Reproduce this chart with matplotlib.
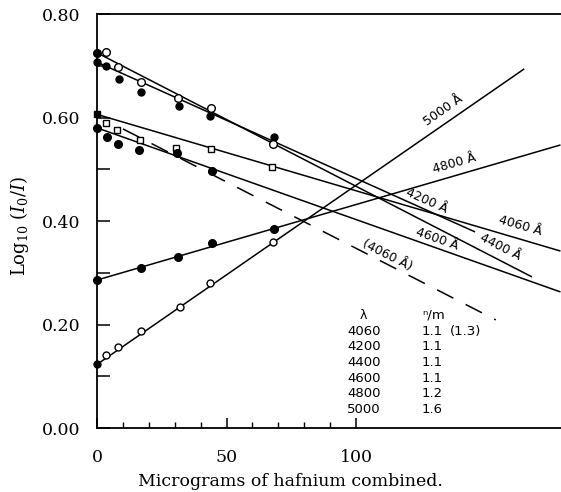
import matplotlib
matplotlib.use("Agg")
import matplotlib.pyplot as plt

# ---------------- data ----------------
# 4060 A (open squares)
x_4060 = [0, 3.3, 7.6, 16.6, 30.5, 44, 67.4]
y_4060 = [0.606, 0.590, 0.576, 0.556, 0.542, 0.539, 0.505]
# 4200 A (filled circles)
x_4200 = [0, 3.5, 8.5, 17, 31.8, 43.6, 68.3]
y_4200 = [0.707, 0.700, 0.674, 0.650, 0.623, 0.603, 0.562]
# 4400 A (open circles)
x_4400 = [0, 3.3, 8, 17, 31.4, 44, 68]
y_4400 = [0.725, 0.727, 0.698, 0.668, 0.638, 0.618, 0.549]
# 4600 A (filled circles)
x_4600 = [0, 3.7, 8.2, 16.3, 30.8, 44.3]
y_4600 = [0.580, 0.562, 0.549, 0.537, 0.531, 0.497]
# 4800 A (filled circles)
x_4800 = [0, 16.8, 31.4, 44.5, 68.3]
y_4800 = [0.286, 0.310, 0.331, 0.358, 0.384]
# 5000 A (open circles)
x_5000 = [0, 3.5, 7.9, 17.1, 32, 43.6, 68]
y_5000 = [0.123, 0.141, 0.157, 0.188, 0.234, 0.281, 0.360]

# fitted straight lines (x pair, y pair)
fit_4060 = ([0, 179], [0.606, 0.342])
fit_4200 = ([0, 146], [0.707, 0.379])
fit_4400 = ([0, 168], [0.725, 0.292])
fit_4600 = ([0, 179], [0.580, 0.263])
fit_4800 = ([0, 179], [0.286, 0.547])
fit_5000 = ([0, 165], [0.123, 0.694])
fit_4060_dashed = ([10, 154], [0.578, 0.209])

# line labels
line_labels = ["5000 Å", "4800 Å", "4200 Å", "4060 Å", "4400 Å", "4600 Å", "(4060 Å)"]

# table
table_lambda = ["4060", "4200", "4400", "4600", "4800", "5000"]
table_nm = ["1.1", "1.1", "1.1", "1.1", "1.2", "1.6"]
table_extra = "(1.3)"

x_ticks_major = [0, 50, 100]
x_ticks_minor = [10, 20, 30, 40, 60, 70, 80, 90]
y_ticks_major = [0.0, 0.2, 0.4, 0.6, 0.8]
y_ticks_minor = [0.1, 0.3, 0.5, 0.7]
y_tick_labels = ["0.00", "0.20", "0.40", "0.60", "0.80"]
x_tick_labels = ["0", "50", "100"]

# ---------------- figure ----------------
plt.rcParams["font.family"] = "DejaVu Serif"
plt.rcParams["mathtext.fontset"] = "dejavuserif"

fig = plt.figure(figsize=(5.61, 4.92), dpi=100)
ax = fig.add_axes([0.173, 0.130, 0.827, 0.8415])
ax.set_xlim(0, 179.2)
ax.set_ylim(0, 0.80)

lw = 1.1
for fx, fy in [fit_4060, fit_4200, fit_4400, fit_4600, fit_4800, fit_5000]:
    ax.plot(fx, fy, color="black", lw=lw, solid_capstyle="butt")
ax.plot(fit_4060_dashed[0], fit_4060_dashed[1], color="black", lw=lw,
        dashes=(12, 9))


def pts(xs, ys, marker, filled, ms):
    for xv, yv in zip(xs, ys):
        fc = "black" if (filled or xv == 0) else "white"
        ax.plot([xv], [yv], marker=marker, ms=ms, mfc=fc, mec="black",
                mew=1.0, linestyle="none", clip_on=False, zorder=3)


pts(x_4060, y_4060, "s", False, 5)
pts(x_4200, y_4200, "o", True, 5)
pts(x_4400, y_4400, "o", False, 5.5)
pts(x_4600, y_4600, "o", True, 5.5)
pts(x_4800, y_4800, "o", True, 5.5)
pts(x_5000, y_5000, "o", False, 5)

SANS = "DejaVu Sans"
label_pos = [(133.6, 0.614, 35), (138.2, 0.512, 16), (127.4, 0.440, -24),
             (163.3, 0.390, -16), (155.6, 0.350, -27), (131.3, 0.366, -19.5),
             (112, 0.334, -27)]
for txt, (lx, ly, rot) in zip(line_labels, label_pos):
    ax.text(lx, ly, txt, rotation=rot, rotation_mode="anchor",
            ha="center", va="center", fontsize=9, family=SANS)

# table
col1 = 103.0
col2 = 125.5
ax.text(col1, 0.218, "λ", ha="center", va="center", fontsize=9, family=SANS)
ax.text(col2, 0.218, "ⁿ/m", ha="left", va="center", fontsize=9.5, family=SANS)
row_y = [0.186, 0.157, 0.127, 0.096, 0.066, 0.035]
for lam, nm, ry in zip(table_lambda, table_nm, row_y):
    ax.text(col1, ry, lam, ha="center", va="center", fontsize=9.5, family=SANS)
    ax.text(col2, ry, nm, ha="left", va="center", fontsize=9.5, family=SANS)
ax.text(136.3, row_y[0], table_extra, ha="left", va="center", fontsize=9.5,
        family=SANS)

# axes styling
ax.spines["right"].set_visible(False)
for s in ["left", "top", "bottom"]:
    ax.spines[s].set_linewidth(1.3)

ax.set_xticks(x_ticks_major)
ax.set_xticklabels(x_tick_labels)
ax.set_xticks(x_ticks_minor, minor=True)
ax.set_yticks(y_ticks_major)
ax.set_yticklabels(y_tick_labels)
ax.set_yticks(y_ticks_minor, minor=True)
ax.tick_params(axis="x", which="major", direction="in", length=7, width=1.1,
               pad=15, labelsize=12.5)
ax.tick_params(axis="x", which="minor", direction="in", length=4, width=1.0)
ax.tick_params(axis="y", which="both", direction="in", length=9, width=1.1,
               pad=12, labelsize=12.5)
ax.tick_params(top=False, right=False, which="both")

fig.text(20 / 561, (492 - 226) / 492, r"Log$_{10}$ $(I_0/I)$", rotation=90,
         ha="center", va="center", fontsize=13)
fig.text(290 / 561, (492 - 482) / 492, "Micrograms of hafnium combined.",
         ha="center", va="center", fontsize=12.5)

fig.savefig("out.png", dpi=100)
